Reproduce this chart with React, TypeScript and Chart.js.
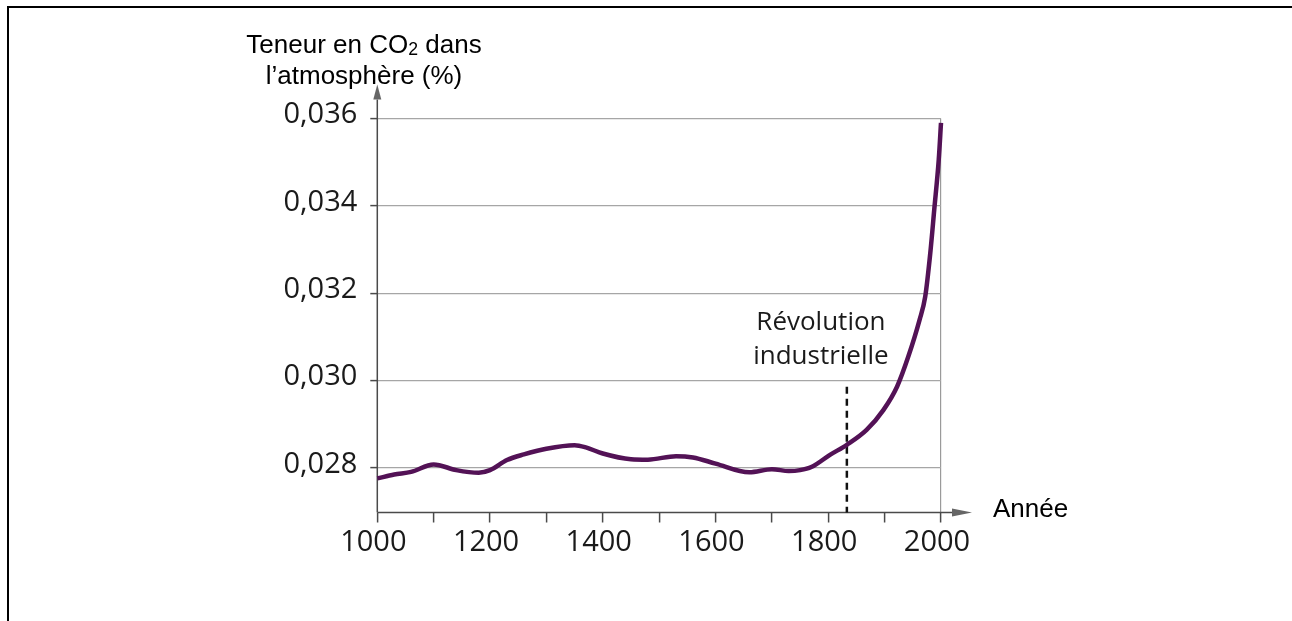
import React, { useEffect, useRef } from "react";
import { Chart, registerables } from "chart.js";

Chart.register(...registerables);

// ---- data ----
const years = [
  1000, 1030, 1060, 1100, 1140, 1180, 1200, 1230, 1260, 1300, 1350, 1370, 1400,
  1450, 1480, 1530, 1560, 1600, 1660, 1700, 1730, 1750, 1770, 1803, 1833, 1868,
  1898, 1922, 1942, 1962, 1972, 1981, 1988, 1996, 2000,
];
const co2 = [
  0.02776, 0.02785, 0.02791, 0.02808, 0.02795, 0.02789, 0.02795, 0.02818,
  0.02831, 0.02844, 0.02852, 0.02847, 0.02833, 0.0282, 0.02819, 0.02827,
  0.02824, 0.0281, 0.0279, 0.02797, 0.02793, 0.02795, 0.02802, 0.0283, 0.02853,
  0.02887, 0.02933, 0.02986, 0.03055, 0.03139, 0.03192, 0.03292, 0.03391,
  0.03506, 0.0359,
];
const yTickValues = [0.028, 0.03, 0.032, 0.034, 0.036];
const xTickValues = [1000, 1100, 1200, 1300, 1400, 1500, 1600, 1700, 1800, 1900, 2000];
const xLabelStep = 200;
const xMin = 1000;
const xMax = 2000;
const yMin = 0.02698;
const yMax = 0.036;
const revolutionYear = 1833;
const revolutionTop = 0.02986;
const revolutionLabel = ["Révolution", "industrielle"];
const revolutionLabelYear = 1787;
const revolutionLabelValues = [0.03133, 0.03055];
const yTitle = ["Teneur en CO", "2", " dans", "l’atmosphère (%)"];
const xTitle = "Année";

const TICK_FONT = "'Open Sans', sans-serif";

export default function App() {
  const canvasRef = useRef<HTMLCanvasElement | null>(null);

  useEffect(() => {
    const canvas = canvasRef.current;
    if (!canvas) return;

    const decor = {
      id: "decor",
      beforeDatasetsDraw(chart: any) {
        const { ctx } = chart;
        const x = chart.scales.x;
        const y = chart.scales.y;
        const x0 = x.getPixelForValue(xMin);
        const y0 = y.getPixelForValue(yMin);
        ctx.save();
        ctx.strokeStyle = "#4a4a4a";
        ctx.lineWidth = 1.5;
        ctx.beginPath();
        ctx.moveTo(x0, y0);
        ctx.lineTo(x.right + 12, y0);
        ctx.moveTo(x0, y0);
        ctx.lineTo(x0, y.top - 19);
        ctx.stroke();
        ctx.fillStyle = "#666";
        ctx.beginPath();
        ctx.moveTo(x.right + 11, y0 - 4);
        ctx.lineTo(x.right + 31, y0);
        ctx.lineTo(x.right + 11, y0 + 4);
        ctx.closePath();
        ctx.fill();
        ctx.beginPath();
        ctx.moveTo(x0 - 4, y.top - 19);
        ctx.lineTo(x0, y.top - 34);
        ctx.lineTo(x0 + 4, y.top - 19);
        ctx.closePath();
        ctx.fill();
        ctx.restore();
      },
      afterDatasetsDraw(chart: any) {
        const { ctx } = chart;
        const x = chart.scales.x;
        const y = chart.scales.y;
        ctx.save();
        ctx.fillStyle = "#1a1a1a";
        ctx.font = `26px ${TICK_FONT}`;
        ctx.textAlign = "center";
        ctx.textBaseline = "middle";
        revolutionLabel.forEach((t, i) => {
          ctx.fillText(t, x.getPixelForValue(revolutionLabelYear), y.getPixelForValue(revolutionLabelValues[i]));
        });
        ctx.restore();
      },
    };

    const chart = new Chart(canvas, {
      type: "line",
      data: {
        datasets: [
          {
            data: years.map((yr, i) => ({ x: yr, y: co2[i] })),
            borderColor: "#531256",
            borderWidth: 4.5,
            pointRadius: 0,
            tension: 0.35,
            cubicInterpolationMode: "monotone",
            clip: false as any,
          },
          {
            data: [
              { x: revolutionYear, y: revolutionTop },
              { x: revolutionYear, y: yMin },
            ],
            borderColor: "#111",
            borderWidth: 2.5,
            borderDash: [7, 5],
            pointRadius: 0,
            clip: false as any,
          },
        ],
      },
      options: {
        animation: false,
        responsive: true,
        maintainAspectRatio: false,
        layout: { padding: { left: 0, top: 118.5, right: 351, bottom: 48.5 } },
        plugins: { legend: { display: false }, tooltip: { enabled: false } },
        scales: {
          x: {
            type: "linear",
            min: xMin,
            max: xMax,
            afterBuildTicks: (s: any) => {
              s.ticks = xTickValues.map((v) => ({ value: v }));
            },
            afterFit: (s: any) => {
              s.height = 60;
            },
            border: { display: false },
            grid: {
              color: (c: any) => (c.tick && c.tick.value === xMax ? "#9a9a9a" : "rgba(0,0,0,0)"),
              lineWidth: 1.2,
              tickLength: 10,
              tickColor: "#4a4a4a",
              tickWidth: 1.5,
            },
            ticks: {
              autoSkip: false,
              maxRotation: 0,
              padding: 3,
              labelOffset: -4,
              color: "#1a1a1a",
              font: { family: TICK_FONT, size: 29 },
              callback: (v: any) => (Number(v) % xLabelStep === 0 ? String(v) : ""),
            },
          },
          y: {
            type: "linear",
            min: yMin,
            max: yMax,
            afterBuildTicks: (s: any) => {
              s.ticks = yTickValues.map((v) => ({ value: v }));
            },
            afterFit: (s: any) => {
              s.width = 377.3;
            },
            border: { display: false },
            grid: {
              color: "#a6a6a6",
              lineWidth: 1.2,
              tickLength: 7,
              tickColor: "#4a4a4a",
              tickWidth: 1.5,
            },
            ticks: {
              padding: 13,
              color: "#1a1a1a",
              font: { family: TICK_FONT, size: 29, lineHeight: "7px" },
              callback: (v: any) => [Number(v).toFixed(3).replace(".", ","), ""],
            },
          },
        },
      },
      plugins: [decor],
    } as any);

    return () => chart.destroy();
  }, []);

  return (
    <>
      <div
        style={{
          position: "fixed",
          left: 7,
          top: 6,
          right: 0,
          bottom: 0,
          borderTop: "2px solid #000",
          borderLeft: "2px solid #000",
        }}
      />
      <div style={{ position: "absolute", left: 0, top: 0, width: 1292, height: 621 }}>
        <canvas ref={canvasRef} />
      </div>
      <div
        style={{
          position: "absolute",
          left: 0,
          top: 30,
          width: 728,
          textAlign: "center",
          fontFamily: "'Liberation Sans', Arial, sans-serif",
          fontSize: 26,
          lineHeight: "28px",
          color: "#000",
          whiteSpace: "nowrap",
        }}
      >
        <div>
          {yTitle[0]}
          <span style={{ fontSize: "0.68em", position: "relative", top: 2 }}>{yTitle[1]}</span>
          {yTitle[2]}
        </div>
        <div>{yTitle[3]}</div>
      </div>
      <div
        style={{
          position: "absolute",
          left: 993,
          top: 494,
          fontFamily: "'Liberation Sans', Arial, sans-serif",
          fontSize: 26,
          lineHeight: "28px",
          color: "#000",
          whiteSpace: "nowrap",
        }}
      >
        {xTitle}
      </div>
    </>
  );
}
